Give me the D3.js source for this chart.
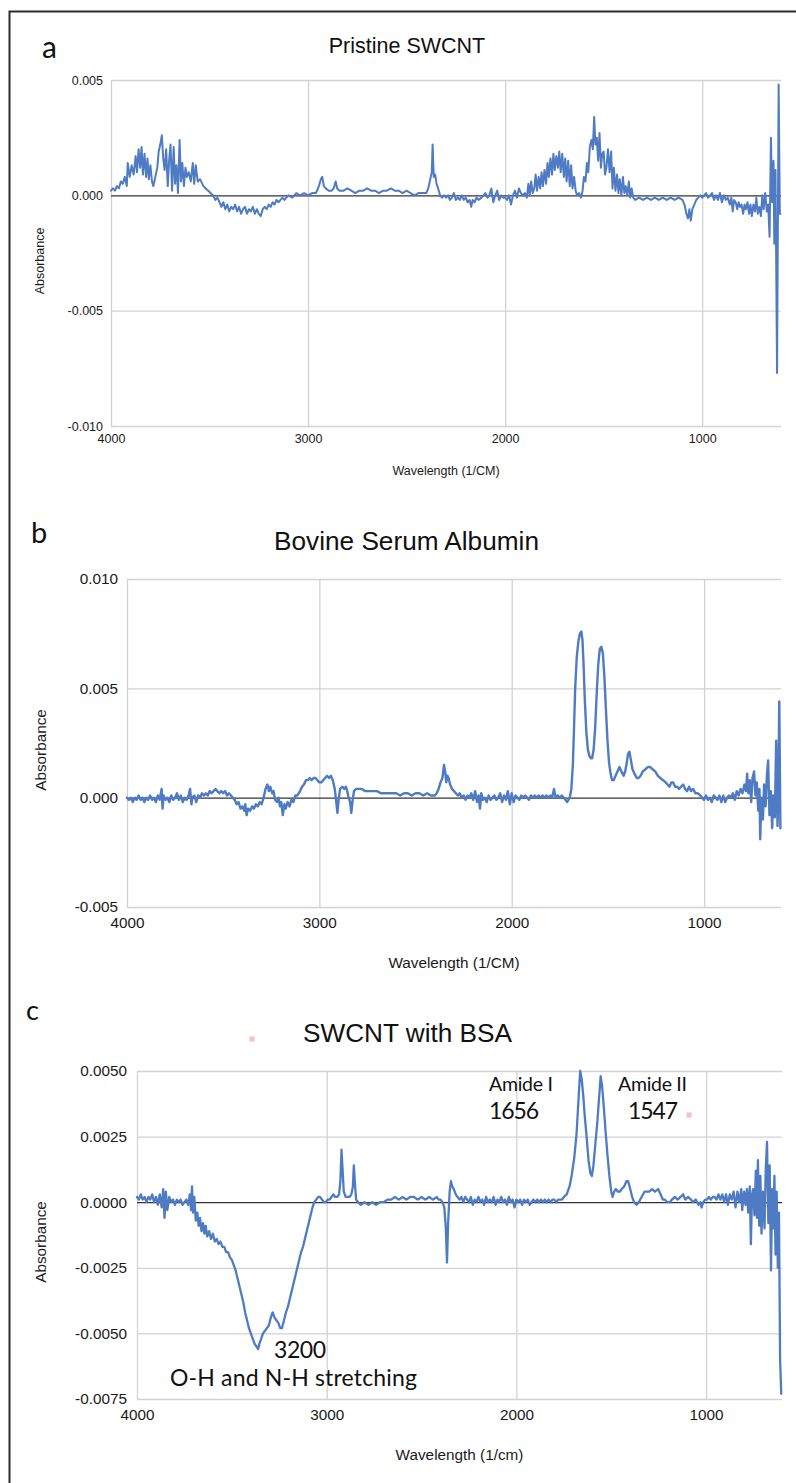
<!DOCTYPE html>
<html><head><meta charset="utf-8">
<script src="https://cdn.jsdelivr.net/npm/d3@7"></script>
<style>body{margin:0;background:#fff}svg{display:block}</style>
</head><body>
<svg id="fig" width="796" height="1483"></svg>
<script>
// ---------------- DATA ----------------
const xTickValues = [4000, 3000, 2000, 1000];
const xTickLabels = ["4000", "3000", "2000", "1000"];

const yTicksA = [0.005, 0, -0.005, -0.010];
const yLabelsA = ["0.005", "0.000", "-0.005", "-0.010"];
const yTicksB = [0.010, 0.005, 0, -0.005];
const yLabelsB = ["0.010", "0.005", "0.000", "-0.005"];
const yTicksC = [0.005, 0.0025, 0, -0.0025, -0.005, -0.0075];
const yLabelsC = ["0.0050", "0.0025", "0.0000", "-0.0025", "-0.0050", "-0.0075"];

const titles = ["Pristine SWCNT", "Bovine Serum Albumin", "SWCNT with BSA"];
const panelLetters = ["a", "b", "c"];
const xTitles = ["Wavelength (1/CM)", "Wavelength (1/CM)", "Wavelength (1/cm)"];
const yTitle = "Absorbance";

// [wavenumber (1/cm), absorbance]
const spectrumA = [
[4000,0.0002],[3990,0.0003],[3980,0.0002],[3970,0.0004],[3960,0.0003],[3950,0.0006],[3940,0.0005],[3930,0.0008],[3920,0.0004],[3915,0.0014],
[3905,0.0008],[3895,0.0013],[3885,0.0009],[3875,0.0017],[3868,0.0010],[3860,0.0020],[3852,0.0012],[3845,0.0021],[3838,0.0009],[3830,0.0018],
[3822,0.0008],[3815,0.0016],[3808,0.0007],[3800,0.0013],[3792,0.0006],[3785,0.0004],[3775,0.0008],[3765,0.0012],[3758,0.0019],[3750,0.0022],
[3742,0.0026],[3735,0.0016],[3728,0.0011],[3720,0.0020],[3712,0.0004],[3705,0.0015],[3698,0.0022],[3690,0.0002],[3682,0.0021],[3675,0.0005],
[3668,0.0013],[3660,0.0001],[3652,0.0024],[3645,0.0006],[3638,0.0014],[3630,0.0004],[3622,0.0012],[3615,0.0008],[3605,0.0010],[3595,0.0006],
[3585,0.0014],[3578,0.0005],[3570,0.0013],[3560,0.0006],[3548,0.0007],[3531,0.0004],[3520,0.0003],[3506,0.0002],[3495,0.0001],[3483,0.0000],
[3470,-0.0002],[3460,-0.0001],[3449,-0.0003],[3440,-0.0005],[3430,-0.0003],[3420,-0.0006],[3410,-0.0004],[3400,-0.0007],[3390,-0.0005],[3380,-0.0006],
[3370,-0.0004],[3360,-0.0007],[3350,-0.0005],[3340,-0.0008],[3330,-0.0006],[3320,-0.0005],[3310,-0.0008],[3300,-0.0006],[3290,-0.0007],[3280,-0.0005],
[3270,-0.0008],[3260,-0.0006],[3250,-0.0008],[3240,-0.0009],[3230,-0.0006],[3220,-0.0005],[3210,-0.0006],[3200,-0.0004],[3190,-0.0005],[3180,-0.0003],
[3170,-0.0004],[3160,-0.0002],[3150,-0.0003],[3140,-0.0002],[3130,-0.0001],[3120,-0.0002],[3110,-0.0001],[3100,0.0000],[3080,-0.0001],[3060,0.0001],
[3040,0.0000],[3020,0.0001],[3000,0.0000],[2980,0.0001],[2960,0.0001],[2945,0.0004],[2935,0.0007],[2928,0.0008],[2920,0.0004],[2910,0.0003],
[2895,0.0002],[2880,0.0002],[2870,0.0003],[2860,0.0006],[2852,0.0003],[2840,0.0002],[2820,0.0002],[2800,0.0003],[2780,0.0002],[2760,0.0001],
[2740,0.0002],[2720,0.0002],[2700,0.0003],[2680,0.0002],[2660,0.0002],[2640,0.0001],[2620,0.0002],[2600,0.0002],[2580,0.0003],[2560,0.0002],
[2540,0.0002],[2520,0.0001],[2500,0.0002],[2480,0.0001],[2460,0.0000],[2440,0.0001],[2420,0.0001],[2400,0.0001],[2390,0.0003],[2380,0.0007],
[2372,0.0010],[2368,0.0022],[2362,0.0008],[2355,0.0009],[2348,0.0005],[2340,0.0003],[2330,0.0000],[2320,-0.0001],[2310,0.0000],[2300,-0.0001],
[2290,0.0000],[2280,-0.0002],[2270,-0.0001],[2260,0.0001],[2250,-0.0002],[2240,-0.0001],[2230,-0.0002],[2220,0.0000],[2210,-0.0002],[2200,-0.0001],
[2190,-0.0003],[2180,-0.0002],[2172,-0.0005],[2165,-0.0002],[2155,-0.0003],[2145,-0.0001],[2135,-0.0002],[2120,-0.0001],[2100,0.0001],[2090,-0.0001],
[2080,0.0000],[2070,0.0003],[2060,-0.0003],[2050,0.0000],[2040,0.0002],[2030,-0.0002],[2020,0.0000],[2010,-0.0001],[2000,-0.0001],[1990,-0.0002],
[1980,0.0000],[1970,-0.0004],[1960,0.0000],[1950,0.0002],[1940,-0.0001],[1930,0.0003],[1920,0.0001],[1910,0.0000],[1900,0.0001],[1890,-0.0001],
[1882,0.0005],[1875,0.0000],[1868,0.0006],[1860,0.0001],[1852,0.0003],[1845,0.0009],[1838,0.0002],[1830,0.0008],[1822,0.0003],[1815,0.0010],
[1808,0.0004],[1800,0.0011],[1792,0.0005],[1785,0.0014],[1778,0.0008],[1770,0.0016],[1762,0.0009],[1755,0.0018],[1748,0.0011],[1740,0.0017],
[1732,0.0012],[1725,0.0019],[1718,0.0010],[1710,0.0018],[1702,0.0008],[1695,0.0016],[1688,0.0006],[1680,0.0015],[1672,0.0004],[1665,0.0013],
[1658,0.0003],[1650,0.0008],[1642,0.0002],[1635,0.0000],[1625,0.0001],[1615,-0.0001],[1607,0.0002],[1600,0.0008],[1592,0.0006],[1585,0.0014],
[1578,0.0010],[1570,0.0021],[1562,0.0024],[1555,0.0020],[1548,0.0034],[1542,0.0022],[1535,0.0025],[1528,0.0015],[1521,0.0027],[1514,0.0012],
[1507,0.0018],[1500,0.0019],[1493,0.0009],[1486,0.0012],[1478,0.0020],[1470,0.0010],[1462,0.0019],[1455,0.0003],[1448,0.0012],[1440,0.0002],
[1432,0.0009],[1425,0.0001],[1418,0.0007],[1410,0.0000],[1402,0.0008],[1395,0.0001],[1388,0.0004],[1380,0.0000],[1372,0.0006],[1365,-0.0001],
[1358,0.0003],[1350,-0.0001],[1340,-0.0002],[1320,-0.0001],[1300,-0.0002],[1280,-0.0001],[1260,-0.0002],[1240,-0.0001],[1220,-0.0002],[1200,-0.0001],
[1180,-0.0002],[1160,-0.0001],[1140,-0.0002],[1120,-0.0001],[1100,-0.0002],[1090,-0.0004],[1080,-0.0008],[1072,-0.0010],[1065,-0.0006],[1058,-0.0011],
[1050,-0.0006],[1040,-0.0004],[1030,-0.0002],[1020,-0.0001],[1010,0.0000],[1000,-0.0001],[990,0.0000],[980,0.0001],[970,-0.0001],[960,0.0000],
[950,0.0001],[940,-0.0002],[930,0.0000],[920,-0.0002],[910,0.0001],[900,-0.0003],[890,0.0000],[880,-0.0002],[870,-0.0001],[860,-0.0004],
[852,-0.0001],[845,-0.0007],[838,-0.0002],[830,-0.0003],[822,-0.0006],[815,-0.0003],[808,-0.0005],[800,-0.0004],[792,-0.0008],[785,-0.0004],
[778,-0.0006],[770,-0.0003],[762,-0.0008],[755,-0.0004],[748,-0.0009],[740,-0.0004],[732,-0.0007],[725,-0.0001],[718,-0.0008],[710,-0.0005],
[702,-0.0009],[695,0.0000],[688,-0.0006],[680,0.0001],[672,-0.0007],[665,-0.0004],[658,-0.0018],[651,0.0025],[645,-0.0003],[638,0.0015],
[634,-0.0021],[628,0.0011],[620,-0.0077],[612,0.0048],[606,-0.0008],[603,-0.0008]
];

const spectrumB = [
[4000,0.0000],[3990,-0.0001],[3980,0.0000],[3970,-0.0002],[3960,0.0000],[3950,-0.0001],[3940,0.0001],[3930,-0.0001],[3920,0.0000],[3910,-0.0002],
[3900,0.0000],[3890,-0.0001],[3880,0.0001],[3870,-0.0001],[3860,0.0000],[3850,-0.0002],[3840,0.0001],[3830,-0.0001],[3820,0.0004],[3815,-0.0005],
[3810,0.0001],[3800,-0.0001],[3790,0.0000],[3780,-0.0002],[3770,0.0001],[3760,-0.0001],[3750,0.0000],[3740,0.0002],[3730,-0.0001],[3720,0.0001],
[3710,-0.0002],[3700,0.0000],[3690,-0.0001],[3680,0.0001],[3672,0.0004],[3665,-0.0003],[3660,0.0000],[3650,0.0001],[3640,-0.0002],[3630,0.0001],
[3620,0.0000],[3610,0.0002],[3600,0.0001],[3590,0.0002],[3580,0.0001],[3570,0.0003],[3560,0.0002],[3550,0.0003],[3540,0.0004],[3530,0.0003],
[3520,0.0002],[3510,0.0003],[3500,0.0002],[3490,0.0003],[3480,0.0001],[3470,0.0002],[3460,0.0001],[3450,0.0000],[3440,-0.0001],[3430,-0.0003],
[3420,-0.0002],[3410,-0.0005],[3400,-0.0004],[3390,-0.0006],[3385,-0.0003],[3378,-0.0008],[3370,-0.0005],[3360,-0.0006],[3350,-0.0004],[3340,-0.0005],
[3330,-0.0003],[3320,-0.0004],[3310,-0.0002],[3300,-0.0003],[3290,0.0000],[3280,0.0004],[3270,0.0006],[3262,0.0003],[3255,0.0005],[3245,0.0002],
[3238,0.0003],[3230,-0.0001],[3220,-0.0002],[3212,0.0000],[3205,-0.0004],[3198,-0.0002],[3190,-0.0008],[3182,-0.0003],[3175,-0.0005],[3165,-0.0002],
[3155,-0.0004],[3145,-0.0001],[3135,-0.0002],[3125,0.0001],[3115,0.0001],[3100,0.0003],[3090,0.0005],[3080,0.0006],[3070,0.0008],[3060,0.0008],
[3050,0.0009],[3040,0.0008],[3030,0.0009],[3020,0.0009],[3010,0.0008],[3000,0.0007],[2990,0.0007],[2980,0.0008],[2970,0.0009],[2960,0.0010],
[2950,0.0009],[2940,0.0010],[2930,0.0008],[2920,0.0004],[2912,-0.0002],[2906,-0.0007],[2900,-0.0001],[2892,0.0004],[2880,0.0005],[2870,0.0004],
[2862,0.0005],[2855,0.0003],[2848,0.0000],[2840,-0.0002],[2834,-0.0007],[2828,-0.0002],[2820,0.0003],[2810,0.0004],[2800,0.0004],[2780,0.0004],
[2760,0.0003],[2740,0.0003],[2720,0.0003],[2700,0.0003],[2680,0.0002],[2660,0.0002],[2640,0.0002],[2620,0.0002],[2600,0.0002],[2580,0.0001],
[2560,0.0002],[2540,0.0002],[2520,0.0001],[2500,0.0002],[2480,0.0002],[2460,0.0001],[2440,0.0002],[2420,0.0001],[2400,0.0001],[2390,0.0002],
[2380,0.0004],[2370,0.0007],[2360,0.0009],[2352,0.0015],[2346,0.0012],[2340,0.0007],[2334,0.0010],[2328,0.0009],[2320,0.0006],[2310,0.0004],
[2300,0.0003],[2290,0.0002],[2280,0.0001],[2270,0.0002],[2260,0.0000],[2250,0.0001],[2240,-0.0001],[2230,0.0001],[2220,0.0000],[2210,0.0002],
[2200,-0.0001],[2190,0.0003],[2180,-0.0002],[2172,0.0001],[2165,-0.0005],[2158,0.0002],[2150,-0.0001],[2140,0.0000],[2130,-0.0002],[2120,0.0001],
[2110,-0.0001],[2100,0.0000],[2090,0.0001],[2080,-0.0001],[2070,0.0000],[2060,0.0002],[2050,-0.0002],[2040,0.0001],[2030,-0.0001],[2020,0.0003],
[2010,-0.0003],[2000,0.0002],[1990,-0.0002],[1980,0.0001],[1970,0.0000],[1960,-0.0001],[1950,0.0001],[1940,0.0000],[1930,0.0001],[1920,0.0000],
[1910,-0.0001],[1900,0.0001],[1890,0.0000],[1880,0.0001],[1870,0.0000],[1860,0.0001],[1850,0.0000],[1840,0.0001],[1830,0.0000],[1820,0.0001],
[1810,0.0000],[1800,0.0001],[1790,0.0000],[1780,0.0004],[1772,0.0000],[1760,0.0001],[1750,0.0000],[1740,0.0001],[1730,0.0000],[1720,-0.0001],
[1712,-0.0002],[1705,-0.0001],[1698,0.0000],[1690,0.0004],[1682,0.0015],[1676,0.0032],[1670,0.0050],[1662,0.0064],[1654,0.0071],[1646,0.0075],
[1638,0.0076],[1632,0.0072],[1626,0.0060],[1620,0.0045],[1612,0.0030],[1604,0.0022],[1596,0.0019],[1588,0.0018],[1582,0.0018],[1574,0.0022],
[1566,0.0032],[1558,0.0048],[1550,0.0061],[1542,0.0068],[1534,0.0069],[1526,0.0066],[1518,0.0055],[1510,0.0040],[1502,0.0026],[1494,0.0016],
[1486,0.0011],[1478,0.0008],[1470,0.0008],[1460,0.0010],[1450,0.0012],[1440,0.0014],[1430,0.0012],[1418,0.0010],[1410,0.0012],[1402,0.0016],
[1395,0.0020],[1388,0.0021],[1380,0.0017],[1372,0.0013],[1362,0.0011],[1350,0.0009],[1340,0.0009],[1330,0.0010],[1318,0.0012],[1305,0.0013],
[1292,0.0014],[1280,0.0014],[1268,0.0013],[1254,0.0012],[1240,0.0010],[1228,0.0009],[1213,0.0008],[1200,0.0007],[1190,0.0006],[1180,0.0005],
[1170,0.0007],[1161,0.0007],[1150,0.0005],[1140,0.0005],[1130,0.0004],[1120,0.0005],[1109,0.0006],[1098,0.0004],[1088,0.0003],[1078,0.0005],
[1068,0.0003],[1057,0.0004],[1045,0.0002],[1032,0.0002],[1020,0.0001],[1010,0.0000],[1000,-0.0001],[990,0.0001],[980,-0.0001],[970,0.0000],
[960,-0.0002],[950,0.0001],[940,0.0000],[930,-0.0001],[920,0.0001],[910,-0.0002],[900,0.0001],[890,-0.0002],[880,0.0000],[870,0.0001],
[860,0.0000],[850,0.0002],[840,-0.0001],[830,0.0003],[820,0.0001],[810,0.0004],[800,0.0002],[790,0.0006],[782,0.0003],[776,0.0011],
[770,0.0002],[762,0.0008],[755,-0.0002],[748,0.0009],[740,0.0012],[733,0.0001],[726,0.0007],[718,-0.0006],[712,0.0004],[708,-0.0019],
[702,0.0000],[694,-0.0010],[688,0.0006],[680,-0.0004],[674,0.0009],[667,0.0017],[660,-0.0008],[653,0.0003],[646,-0.0014],[640,0.0001],
[632,-0.0009],[625,0.0026],[618,-0.0013],[614,0.0001],[609,0.0044],[603,-0.0014]
];

const spectrumC = [
[4000,0.0002],[3990,0.0001],[3980,0.0003],[3970,0.0001],[3960,0.0002],[3950,0.0000],[3940,0.0002],[3930,0.0001],[3920,0.0003],[3910,0.0000],
[3900,0.0002],[3890,-0.0001],[3880,0.0003],[3870,-0.0002],[3862,0.0005],[3855,-0.0006],[3848,0.0004],[3840,-0.0003],[3830,0.0002],[3820,0.0000],
[3810,0.0001],[3800,-0.0001],[3790,0.0001],[3780,0.0000],[3770,0.0001],[3760,-0.0001],[3750,0.0000],[3740,0.0001],[3730,-0.0001],[3722,0.0003],
[3715,-0.0003],[3710,0.0006],[3705,-0.0004],[3698,0.0002],[3690,-0.0007],[3682,-0.0004],[3675,-0.0009],[3668,-0.0006],[3660,-0.0011],[3652,-0.0008],
[3645,-0.0012],[3638,-0.0009],[3630,-0.0013],[3620,-0.0011],[3610,-0.0014],[3600,-0.0012],[3590,-0.0015],[3580,-0.0014],[3570,-0.0016],[3560,-0.0015],
[3550,-0.0017],[3540,-0.0017],[3530,-0.0019],[3520,-0.0019],[3510,-0.0021],[3500,-0.0022],[3490,-0.0024],[3480,-0.0026],[3470,-0.0029],[3460,-0.0032],
[3450,-0.0035],[3440,-0.0038],[3430,-0.0042],[3420,-0.0045],[3410,-0.0048],[3400,-0.0050],[3390,-0.0052],[3380,-0.0054],[3370,-0.0055],[3362,-0.0056],
[3355,-0.0054],[3345,-0.0052],[3336,-0.0050],[3325,-0.0049],[3315,-0.0048],[3305,-0.0047],[3295,-0.0044],[3285,-0.0042],[3275,-0.0044],[3265,-0.0045],
[3255,-0.0046],[3245,-0.0048],[3236,-0.0048],[3225,-0.0045],[3215,-0.0042],[3205,-0.0040],[3195,-0.0037],[3185,-0.0034],[3175,-0.0031],[3165,-0.0028],
[3155,-0.0025],[3145,-0.0022],[3135,-0.0019],[3125,-0.0017],[3115,-0.0014],[3105,-0.0011],[3095,-0.0008],[3085,-0.0005],[3075,-0.0002],[3065,0.0000],
[3055,0.0001],[3045,0.0002],[3035,0.0002],[3025,0.0001],[3015,0.0000],[3005,0.0000],[2995,0.0001],[2985,0.0001],[2975,0.0002],[2965,0.0003],
[2955,0.0002],[2945,0.0002],[2935,0.0003],[2928,0.0008],[2922,0.0020],[2916,0.0012],[2910,0.0004],[2900,0.0002],[2890,0.0002],[2880,0.0002],
[2870,0.0003],[2862,0.0006],[2857,0.0014],[2852,0.0008],[2845,0.0001],[2835,0.0000],[2820,-0.0001],[2800,0.0000],[2780,-0.0001],[2760,0.0000],
[2740,-0.0001],[2720,0.0000],[2700,0.0000],[2680,0.0001],[2660,0.0001],[2640,0.0002],[2620,0.0001],[2600,0.0002],[2580,0.0001],[2560,0.0002],
[2540,0.0002],[2520,0.0001],[2500,0.0002],[2480,0.0001],[2460,0.0002],[2440,0.0001],[2420,0.0002],[2410,0.0001],[2400,0.0001],[2390,0.0000],
[2380,-0.0002],[2372,-0.0010],[2366,-0.0023],[2360,-0.0008],[2352,0.0004],[2345,0.0008],[2338,0.0006],[2330,0.0005],[2320,0.0003],[2310,0.0002],
[2300,0.0001],[2290,0.0002],[2280,0.0000],[2270,0.0002],[2260,0.0001],[2250,0.0000],[2240,0.0002],[2230,-0.0001],[2220,0.0001],[2210,0.0000],
[2200,0.0002],[2190,0.0000],[2180,0.0001],[2170,-0.0001],[2160,0.0002],[2150,0.0000],[2140,0.0001],[2130,0.0000],[2120,0.0002],[2110,-0.0001],
[2100,0.0001],[2090,0.0000],[2080,0.0002],[2070,0.0000],[2060,0.0001],[2050,-0.0001],[2040,0.0002],[2030,0.0000],[2020,0.0001],[2010,-0.0002],
[2000,0.0001],[1990,0.0000],[1980,0.0001],[1970,-0.0001],[1960,0.0001],[1950,0.0000],[1940,0.0001],[1930,-0.0001],[1920,0.0000],[1910,0.0001],
[1900,0.0000],[1890,0.0001],[1880,0.0000],[1870,0.0001],[1860,0.0000],[1850,0.0001],[1840,0.0000],[1830,0.0001],[1820,0.0000],[1810,0.0001],
[1800,0.0001],[1790,0.0000],[1780,0.0001],[1770,0.0001],[1760,0.0001],[1750,0.0002],[1735,0.0003],[1720,0.0006],[1709,0.0010],[1695,0.0017],
[1683,0.0026],[1672,0.0040],[1664,0.0050],[1656,0.0047],[1648,0.0041],[1640,0.0033],[1630,0.0025],[1620,0.0016],[1610,0.0011],[1602,0.0010],
[1594,0.0014],[1584,0.0022],[1574,0.0030],[1564,0.0040],[1556,0.0048],[1548,0.0044],[1540,0.0037],[1530,0.0027],[1520,0.0018],[1510,0.0010],
[1500,0.0004],[1493,0.0002],[1485,0.0004],[1476,0.0005],[1465,0.0004],[1455,0.0004],[1445,0.0005],[1432,0.0006],[1420,0.0008],[1411,0.0008],
[1400,0.0005],[1390,0.0002],[1380,0.0000],[1367,-0.0001],[1355,0.0000],[1340,0.0002],[1325,0.0004],[1314,0.0004],[1300,0.0004],[1285,0.0005],
[1270,0.0004],[1253,0.0005],[1240,0.0003],[1228,0.0001],[1218,0.0001],[1205,0.0000],[1191,0.0000],[1180,0.0001],[1165,0.0002],[1150,0.0001],
[1135,0.0002],[1121,0.0003],[1110,0.0001],[1095,0.0002],[1080,0.0001],[1068,0.0000],[1055,0.0001],[1040,-0.0001],[1030,0.0000],[1024,-0.0002],
[1015,0.0000],[1005,0.0001],[995,0.0001],[985,0.0002],[975,0.0001],[965,0.0002],[955,0.0002],[945,0.0001],[935,0.0003],[925,0.0001],
[915,0.0003],[905,0.0000],[895,0.0003],[885,-0.0001],[875,0.0003],[865,0.0001],[855,0.0004],[845,-0.0002],[835,0.0004],[825,0.0000],
[815,0.0005],[810,-0.0003],[800,0.0004],[792,-0.0001],[785,0.0005],[778,-0.0004],[770,0.0006],[764,-0.0016],[758,0.0003],[752,0.0005],
[745,-0.0005],[738,0.0012],[732,-0.0006],[727,0.0016],[720,-0.0009],[714,0.0010],[708,-0.0012],[700,0.0004],[692,-0.0010],[686,0.0012],
[679,0.0023],[672,-0.0008],[665,0.0014],[658,-0.0026],[652,0.0005],[646,-0.0010],[640,0.0010],[634,-0.0020],[628,0.0004],[622,-0.0025],
[616,-0.0004],[610,-0.0060],[604,-0.0073]
];

// annotations for panel c (two-line labels)
const annotationsC = [
  {lines: ["Amide I", "1656"], x: [489, 489], y: [1091, 1119], size: [19.5, 23], len: [64, 50]},
  {lines: ["Amide II", "1547"], x: [618, 628], y: [1091, 1119], size: [19.5, 23], len: [69, 50]},
  {lines: ["3200", "O-H and N-H stretching"], x: [274, 170], y: [1358, 1386], size: [23, 23], len: [52, 247]}
];

// ---------------- LAYOUT ----------------
const FONT = "'Liberation Sans', Arial, Helvetica, sans-serif";
const FONT2 = "Lato, 'Open Sans', sans-serif";
const LINE = "#4f7bc4";
const GRID = "#d2d2d2";

const panels = [
  {data: spectrumA, yTicks: yTicksA, yLabels: yLabelsA, yDomain: [-0.010, 0.005],
   left: 111, right: 781, top: 80, bottom: 426, fs: 12.5, tpadY: 8, tpadX: 8, lw: 2,
   title: {x: 407, y: 53, size: 21.5}, letter: {x: 42, y: 58, size: 30},
   xTitle: {y: 475, size: 12.5}, yTitle: {x: 44, y: 261, size: 12.5}},
  {data: spectrumB, yTicks: yTicksB, yLabels: yLabelsB, yDomain: [-0.005, 0.010],
   left: 127, right: 781, top: 579, bottom: 907, fs: 15.3, tpadY: 9, tpadX: 10, lw: 2.4,
   title: {x: 406.5, y: 550, size: 26.2}, letter: {x: 31, y: 543, size: 29},
   xTitle: {y: 968, size: 15.3}, yTitle: {x: 46, y: 750, size: 15.3}},
  {data: spectrumC, yTicks: yTicksC, yLabels: yLabelsC, yDomain: [-0.0075, 0.005],
   left: 137, right: 782, top: 1071, bottom: 1399, fs: 15.3, tpadY: 10, tpadX: 10, lw: 2.3,
   title: {x: 407.5, y: 1042, size: 26.2}, letter: {x: 26, y: 1020, size: 27},
   xTitle: {y: 1460, size: 15.3}, yTitle: {x: 46, y: 1242, size: 15.3}}
];

const svg = d3.select("#fig");
svg.append("rect").attr("width", 796).attr("height", 1483).attr("fill", "#fff");

// outer frame
svg.append("path").attr("d", "M9.5,1483 L9.5,11.5 L796,11.5")
  .attr("fill", "none").attr("stroke", "#2b2b2b").attr("stroke-width", 2);

panels.forEach((p, i) => {
  const x = d3.scaleLinear().domain([4000, 600]).range([p.left, p.right]);
  const y = d3.scaleLinear().domain(p.yDomain).range([p.bottom, p.top]);
  const w = p.right - p.left, h = p.bottom - p.top;
  const g = svg.append("g");

  // vertical grid + x tick labels
  const gx = g.append("g").attr("transform", `translate(0,${p.bottom})`)
    .call(d3.axisBottom(x).tickValues(xTickValues).tickSize(-h).tickPadding(p.tpadX)
      .tickFormat((d, k) => xTickLabels[k]));
  gx.select(".domain").remove();
  gx.selectAll("line").attr("stroke", GRID).attr("stroke-width", 1.3);
  gx.selectAll("text").attr("font-family", FONT).attr("font-size", p.fs).attr("fill", "#1a1a1a");

  // horizontal grid + y tick labels
  const gy = g.append("g").attr("transform", `translate(${p.left},0)`)
    .call(d3.axisLeft(y).tickValues(p.yTicks).tickSize(-w).tickPadding(p.tpadY)
      .tickFormat((d, k) => p.yLabels[k]));
  gy.select(".domain").remove();
  gy.selectAll("line").attr("stroke", GRID).attr("stroke-width", 1.3);
  gy.selectAll(".tick").filter(d => d === 0).select("line").attr("stroke", "#333").attr("stroke-width", 1.2);
  gy.selectAll("text").attr("font-family", FONT).attr("font-size", p.fs).attr("fill", "#1a1a1a");

  // spectrum line
  const line = d3.line().x(d => x(d[0])).y(d => y(d[1]));
  g.append("path").datum(p.data).attr("d", line)
    .attr("fill", "none").attr("stroke", LINE).attr("stroke-width", p.lw)
    .attr("stroke-linejoin", "round").attr("stroke-linecap", "round");

  // titles
  g.append("text").attr("x", p.title.x).attr("y", p.title.y).attr("text-anchor", "middle")
    .attr("font-family", FONT).attr("font-size", p.title.size).attr("fill", "#111").text(titles[i]);
  g.append("text").attr("x", p.letter.x).attr("y", p.letter.y)
    .attr("font-family", FONT2).attr("font-size", p.letter.size).attr("fill", "#111").text(panelLetters[i]);
  g.append("text").attr("x", (p.left + p.right) / 2).attr("y", p.xTitle.y).attr("text-anchor", "middle")
    .attr("font-family", FONT).attr("font-size", p.xTitle.size).attr("fill", "#1a1a1a").text(xTitles[i]);
  g.append("text").attr("transform", `translate(${p.yTitle.x},${p.yTitle.y}) rotate(-90)`)
    .attr("text-anchor", "middle").attr("font-family", FONT).attr("font-size", p.yTitle.size)
    .attr("fill", "#1a1a1a").text(yTitle);
});

// annotations panel c: each label is one text element with two lines
annotationsC.forEach(a => {
  const t = svg.append("text").attr("font-family", FONT2).attr("fill", "#111");
  a.lines.forEach((s, k) => {
    t.append("tspan").attr("x", a.x[k]).attr("y", a.y[k]).attr("font-size", a.size[k])
      .attr("textLength", a.len[k]).attr("lengthAdjust", "spacing").text(s);
  });
});

// small pink text-frame markers
[[252, 1039], [689, 1115]].forEach(([cx, cy]) => {
  const m = svg.append("g").attr("stroke", "#f0a0a8").attr("stroke-width", 0.8).attr("fill", "none");
  m.append("rect").attr("x", cx - 2).attr("y", cy - 2).attr("width", 4).attr("height", 4);
  m.append("line").attr("x1", cx).attr("x2", cx).attr("y1", cy - 2).attr("y2", cy + 2);
  m.append("line").attr("x1", cx - 2).attr("x2", cx + 2).attr("y1", cy).attr("y2", cy);
});
</script>
</body></html>
